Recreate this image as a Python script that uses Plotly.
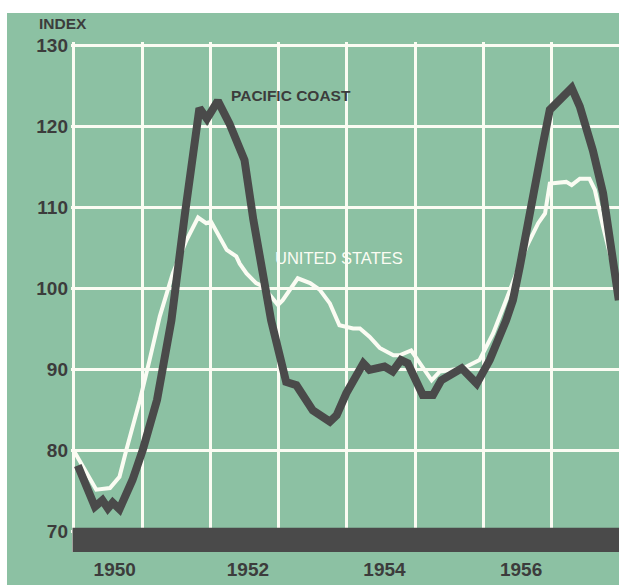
import plotly.graph_objects as go

# ---- data (decimal years, index values) ----
pac_x = [1950.06, 1950.31, 1950.42, 1950.50, 1950.57, 1950.67, 1950.86, 1951.01,
         1951.22, 1951.36, 1951.43, 1951.63, 1951.82, 1951.84, 1951.95, 1952.11,
         1952.28, 1952.50, 1952.63, 1952.75, 1952.89, 1953.11, 1953.26, 1953.50,
         1953.75, 1953.85, 1953.99, 1954.24, 1954.33, 1954.55, 1954.67, 1954.79,
         1954.89, 1955.11, 1955.26, 1955.38, 1955.68, 1955.90, 1956.09, 1956.33,
         1956.43, 1956.53, 1956.72, 1956.87, 1956.97, 1957.12, 1957.29, 1957.41,
         1957.60, 1957.75, 1957.87, 1957.98]
pac_y = [78.1, 73.0, 73.8, 72.8, 73.5, 72.7, 76.3, 80.0,
         86.2, 92.3, 96.0, 109.3, 121.6, 122.2, 120.9, 123.1,
         120.3, 115.8, 108.4, 102.6, 96.0, 88.4, 88.0, 84.9,
         83.5, 84.3, 87.0, 90.7, 89.9, 90.3, 89.7, 91.1,
         90.7, 86.8, 86.8, 88.6, 90.1, 88.2, 91.1, 96.0,
         98.5, 102.6, 111.7, 117.8, 122.0, 123.4, 124.7, 122.4,
         117.0, 111.7, 105.1, 98.5]

us_x = [1950.01, 1950.33, 1950.53, 1950.67, 1950.77, 1950.97, 1951.11, 1951.26,
        1951.45, 1951.65, 1951.82, 1951.94, 1952.01, 1952.24, 1952.38, 1952.43,
        1952.53, 1952.67, 1952.77, 1952.99, 1953.06, 1953.28, 1953.46, 1953.60,
        1953.75, 1953.89, 1954.09, 1954.19, 1954.33, 1954.48, 1954.68, 1954.77,
        1954.94, 1955.11, 1955.24, 1955.36, 1955.70, 1955.94, 1956.14, 1956.33,
        1956.48, 1956.63, 1956.80, 1956.90, 1956.97, 1957.21, 1957.29, 1957.41,
        1957.55, 1957.63, 1957.75, 1957.87]
us_y = [79.8, 75.1, 75.3, 76.7, 80.0, 86.2, 91.1, 96.5,
        101.8, 105.9, 108.7, 108.0, 108.2, 104.7, 103.9, 103.0,
        101.8, 100.6, 100.2, 97.9, 98.5, 101.2, 100.6, 99.8,
        98.1, 95.4, 95.0, 95.0, 94.0, 92.6, 91.7, 91.7,
        92.3, 90.3, 88.6, 89.7, 90.1, 91.1, 94.4, 98.5,
        101.8, 105.1, 108.0, 109.2, 112.9, 113.1, 112.7, 113.5,
        113.5, 112.1, 107.6, 103.5]

y_ticks = [70, 80, 90, 100, 110, 120, 130]
x_tick_pos = [1950.6, 1952.55, 1954.55, 1956.55]
x_tick_text = ["1950", "1952", "1954", "1956"]
year_lines = list(range(1950, 1958))

GREEN = "#8cc1a3"
DARK = "#4a4a4a"
WHITE = "#fbfcf3"
TEXT = "#3c3c3c"
FONT = "Liberation Sans"

fig = go.Figure()
fig.add_trace(go.Scatter(x=us_x, y=us_y, mode="lines",
                         line=dict(color=WHITE, width=4), hoverinfo="skip"))
fig.add_trace(go.Scatter(x=pac_x, y=pac_y, mode="lines",
                         line=dict(color=DARK, width=8), hoverinfo="skip"))

shapes = []
# baseline bar
shapes.append(dict(type="rect", xref="x", yref="y", x0=1949.982, x1=1958.5,
                   y0=67.2, y1=70.4, fillcolor=DARK, line=dict(width=0),
                   layer="above"))
# white page borders outside the green panel (plot area: x 71..619, y 42..552)
shapes.append(dict(type="rect", xref="paper", yref="paper", x0=-0.2, x1=1.1,
                   y0=(552 - 13) / 510, y1=1.2, fillcolor="white",
                   line=dict(width=0), layer="above"))
shapes.append(dict(type="rect", xref="paper", yref="paper", x0=-0.2,
                   x1=(7 - 71) / 548, y0=-0.2, y1=1.2, fillcolor="white",
                   line=dict(width=0), layer="above"))

fig.update_layout(
    width=619, height=585,
    margin=dict(l=71, r=0, t=42, b=33, pad=0),
    paper_bgcolor=GREEN, plot_bgcolor=GREEN,
    showlegend=False,
    shapes=shapes,
    xaxis=dict(range=[1949.96, 1957.983], tickvals=x_tick_pos,
               ticktext=x_tick_text, showgrid=False, zeroline=False,
               showline=False, ticks="", ticklabelstandoff=4,
               tickfont=dict(family=FONT, size=19, color=TEXT, weight="bold"),
               minor=dict(tickvals=year_lines, showgrid=True,
                          gridcolor=WHITE, gridwidth=2.5, ticks="")),
    yaxis=dict(range=[67.41, 130.37], tickvals=y_ticks, showgrid=True,
               gridcolor=WHITE, gridwidth=2.5, zeroline=False, showline=False,
               ticks="", ticklabelstandoff=2,
               tickfont=dict(family=FONT, size=19, color=TEXT, weight="bold")),
    annotations=[
        dict(text="INDEX", xref="paper", yref="paper", x=(37 - 71) / 548,
             y=(552 - 24) / 510, xanchor="left", yanchor="middle",
             showarrow=False,
             font=dict(family=FONT, size=15.5, color=TEXT, weight="bold")),
        dict(text="PACIFIC COAST", xref="x", yref="y", x=1952.27, y=123.8,
             xanchor="left", yanchor="middle", showarrow=False,
             font=dict(family=FONT, size=15.5, color=TEXT, weight="bold")),
        dict(text="UNITED STATES", xref="x", yref="y", x=1952.91, y=103.7,
             xanchor="left", yanchor="middle", showarrow=False,
             font=dict(family=FONT, size=16.5, color=WHITE)),
    ],
)

fig.write_html(
    "out.html",
    config={"displayModeBar": False},
    post_script="document.body.style.margin='0';"
                "document.body.style.overflow='hidden';",
)
